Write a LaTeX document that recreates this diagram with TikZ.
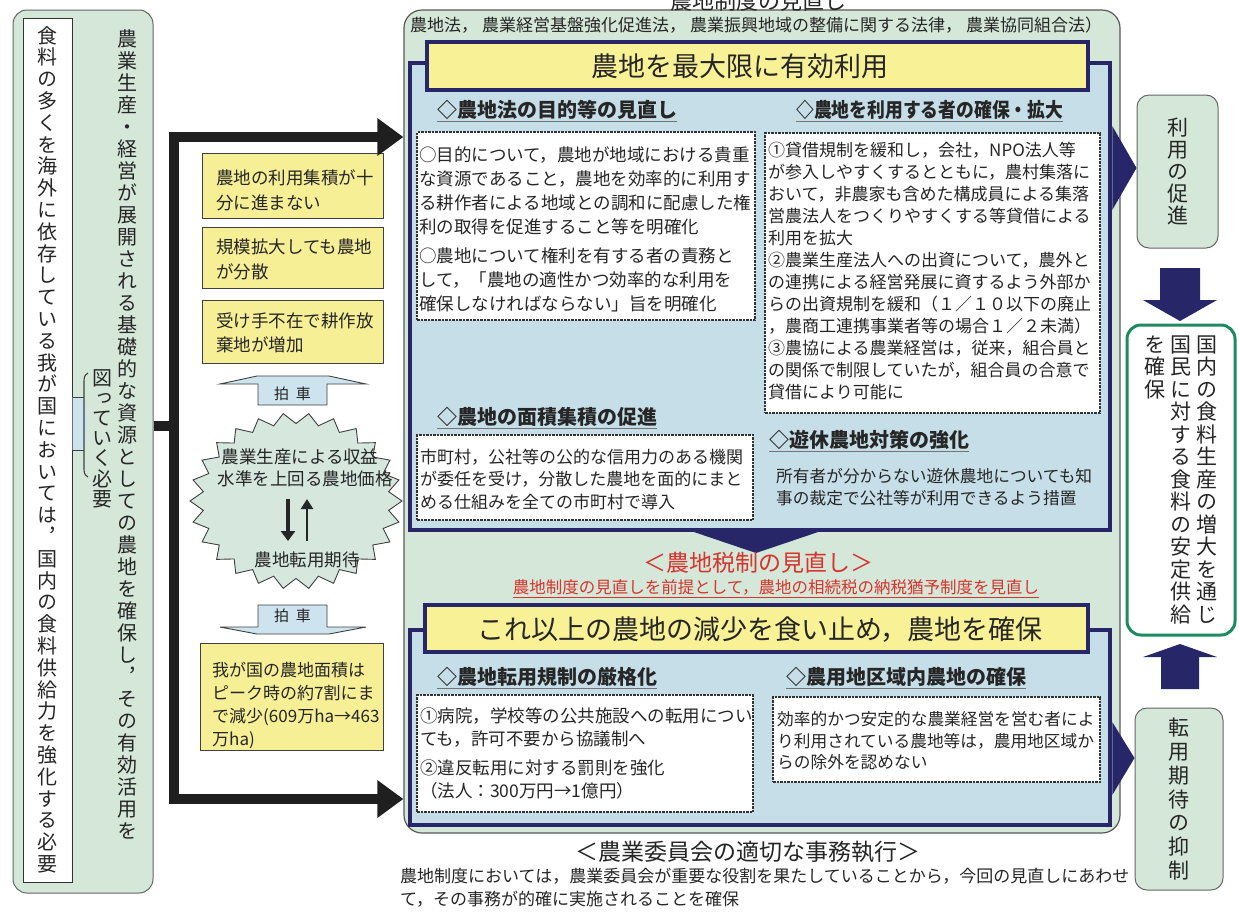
\documentclass[tikz,border=0pt]{standalone}
\usepackage{fontspec}
\usepackage{graphicx}
\setmainfont{Noto Sans CJK JP}
\newfontfamily\jpv[RawFeature=+vert]{Noto Sans CJK JP}
\usetikzlibrary{arrows.meta,calc,fit}
\definecolor{navy}{RGB}{38,38,105}
\definecolor{panelblue}{RGB}{198,222,232}
\definecolor{contgreen}{RGB}{212,231,217}
\definecolor{banneryellow}{RGB}{248,241,150}
\definecolor{yellowbox}{RGB}{247,239,150}
\definecolor{starfill}{RGB}{214,231,221}
\definecolor{hakfill}{RGB}{205,228,238}
\definecolor{redc}{RGB}{214,52,45}
\definecolor{ggreen}{RGB}{30,138,95}
\definecolor{txtc}{RGB}{38,38,38}
\makeatletter
\newcommand\vcol[2]{\vtop{\baselineskip=#1\lineskiplimit=-100pt\lineskip=0pt\@tfor\vch:=#2\do{\hbox to 1em{\hss\vch\hss}}}}
\makeatother
\newcommand\fs[2]{\fontsize{#1}{#2}\selectfont}
\begin{document}
\begin{tikzpicture}[x=1pt,y=-1pt,line join=miter,
 every node/.append style={text=txtc},
 txt/.style={inner sep=0pt, align=left, anchor=north west},
 ctxt/.style={inner sep=0pt, align=center},
 head/.style={inner sep=0pt, anchor=west, font=\bfseries\fs{20}{20}},
 wbox/.style={draw=black!80, fill=white, line width=1.3pt, dash pattern=on 2.5pt off 1pt, inner sep=0pt},
 ybox/.style={draw=black!75, fill=yellowbox, line width=1pt, inner sep=0pt},
 panel/.style={draw=navy, fill=panelblue, line width=4.5pt, inner sep=0pt},
 banner/.style={draw=navy, fill=banneryellow, line width=4pt, inner sep=0pt},
 gbox/.style={draw=black!60, fill=contgreen, rounded corners=12pt, line width=1pt, inner sep=0pt},
 bk/.style={line width=10pt, draw=black!88},
 ul/.style={draw=black!55, line width=1.2pt},
 hak/.style={draw=black!75, fill=hakfill, line width=0.9pt},
]
\useasboundingbox (0,0) rectangle (1239,914);
\fill[white] (0,0) rectangle (1239,914);

% ---------- left column ----------
\node[gbox, rounded corners=14pt, fit={(13,10) (153,893)}] (leftbox) {};
\node[draw=black!80, fill=white, line width=1pt, inner sep=0pt, fit={(23,18) (72,882)}] (inner) {};
\node[inner sep=0pt, anchor=north] (innert) at (47.5,26) {\jpv\fs{20}{20}\vcol{21.8pt}{食料の多くを海外に依存している我が国においては，国内の食料供給力を強化する必要}};
\node[inner sep=0pt, anchor=north] (maint) at (127,29) {\jpv\fs{20}{20}\vcol{22pt}{農業生産・経営が展開される基礎的な資源としての農地を確保し，その有効活用を}};
\node[inner sep=0pt, anchor=north] (maint2) at (102,369) {\jpv\fs{20}{20}\vcol{20.2pt}{図っていく必要}};
\fill[hakfill] (inner.east |- 0,397) -- (84,397) .. controls (88,410) and (88,437) .. (84,450) -- (inner.east |- 0,450) -- cycle;
\draw[black!75, line width=0.9pt] (inner.east |- 0,397) -- (84,397) (inner.east |- 0,450) -- (84,450);
\draw[black!75, line width=1.1pt] (88,373) .. controls (84,376) .. (84,385) -- (84,465) .. controls (84,474) .. (88,477);

% ---------- container ----------
\node[draw=black!65, fill=contgreen, rounded corners=18pt, line width=1.2pt, inner sep=0pt, fit={(404,10) (1120,833)}] (cont) {};
\node[inner sep=0pt, anchor=base, font=\fs{22}{22}] (toptitle) at (758,9) {農地制度の見直し};
\node[inner sep=0pt, anchor=west, font=\fs{17}{17}] (laws) at (410,25) {\hbox to 692pt{農地法，\hfil 農業経営基盤強化促進法，\hfil 農業振興地域の整備に関する法律，\hfil 農業協同組合法）}};

% ---------- panel 1 ----------
\node[panel, fit={(410,63) (1110,530)}] (p1) {};
\node[banner, fit={(427,42) (1088,90)}] (b1) {};
\node[ctxt, font=\fs{27}{27}] (b1t) at (740,66) {農地を最大限に有効利用};

\node[head] (h1) at (437,110) {◇農地法の目的等の見直し};
\draw[ul] ([yshift=-1.5pt]h1.south west) -- ([yshift=-1.5pt]h1.south east);
\node[head] (h2) at (796,110) {\scalebox{0.89}[1]{◇農地を利用する者の確保・拡大}};
\draw[ul] ([yshift=-1.5pt]h2.south west) -- ([yshift=-1.5pt]h2.south east);

\node[wbox, fit={(417,132) (755,320)}] (w1) {};
\node[txt, font=\fs{17.5}{24}] (w1a) at (419,146) {○目的について，農地が地域における貴重\\な資源であること，農地を効率的に利用す\\る耕作者による地域との調和に配慮した権\\利の取得を促進すること等を明確化};
\node[txt, font=\fs{17.5}{24}] (w1b) at (419,248) {○農地について権利を有する者の責務と\\して，「農地の適性かつ効率的な利用を\\確保しなければならない」旨を明確化};

\node[wbox, fit={(765,133) (1100,413)}] (w2) {};
\node[txt, font=\fs{17}{22}] (w2t) at (768,141.5) {①貸借規制を緩和し，会社，NPO法人等\\が参入しやすくするとともに，農村集落に\\おいて，非農家も含めた構成員による集落\\営農法人をつくりやすくする等貸借による\\利用を拡大\\②農業生産法人への出資について，農外と\\の連携による経営発展に資するよう外部か\\らの出資規制を緩和（１／１０以下の廃止\\，農商工連携事業者等の場合１／２未満）\\③農協による農業経営は，従来，組合員と\\の関係で制限していたが，組合員の合意で\\貸借により可能に};

\node[head] (h3) at (437,417) {◇農地の面積集積の促進};
\draw[ul] ([yshift=-1.5pt]h3.south west) -- ([yshift=-1.5pt]h3.south east);
\node[wbox, fit={(417,435) (753,520)}] (w3) {};
\node[txt, font=\fs{17}{22.5}] (w3t) at (420,448.5) {市町村，公社等の公的な信用力のある機関\\が委任を受け，分散した農地を面的にまと\\める仕組みを全ての市町村で導入};

\node[head] (h4) at (769,440) {◇遊休農地対策の強化};
\draw[ul] ([yshift=-1.5pt]h4.south west) -- ([yshift=-1.5pt]h4.south east);
\node[txt, font=\fs{16.7}{21.5}] (yt) at (776,468.6) {所有者が分からない遊休農地についても知\\事の裁定で公社等が利用できるよう措置};

\fill[navy] (688,530) -- (824,530) -- (756,553) -- cycle;

% ---------- tax ----------
\node[ctxt, text=redc, font=\fs{23}{23}] (tax) at (758,563) {＜農地税制の見直し＞};
\node[ctxt, text=redc, font=\fs{16.5}{16.5}] (taxsub) at (776,587) {農地制度の見直しを前提として，農地の相続税の納税猶予制度を見直し};
\draw[redc, line width=0.8pt] ([yshift=-2pt]taxsub.south west) -- ([yshift=-2pt]taxsub.south east);

% ---------- panel 2 ----------
\node[panel, fit={(410,630) (1110,825)}] (p2) {};
\node[banner, fit={(425,605) (1088,652)}] (b2) {};
\node[ctxt, font=\fs{27}{27}] (b2t) at (760,630) {これ以上の農地の減少を食い止め，農地を確保};

\node[head] (h5) at (437,677) {◇農地転用規制の厳格化};
\draw[ul] ([yshift=-1.5pt]h5.south west) -- ([yshift=-1.5pt]h5.south east);
\node[head] (h6) at (786,677) {◇農用地区域内農地の確保};
\draw[ul] ([yshift=-1.5pt]h6.south west) -- ([yshift=-1.5pt]h6.south east);

\node[wbox, fit={(417,695) (753,812)}] (w5) {};
\node[txt, font=\fs{17.5}{23}] (w5a) at (420,707.25) {①病院，学校等の公共施設への転用につい\\ても，許可不要から協議制へ};
\node[txt, font=\fs{17.5}{23}] (w5b) at (420,759.25) {②違反転用に対する罰則を強化\\（法人：300万円→1億円）};

\node[wbox, fit={(773,697) (1100,782)}] (w6) {};
\node[txt, font=\fs{16.7}{21.5}] (w6t) at (777,711.6) {効率的かつ安定的な農業経営を営む者によ\\り利用されている農地等は，農用地区域か\\らの除外を認めない};

% ---------- bottom text ----------
\node[ctxt, font=\fs{23}{23}] (iinkai) at (748,852) {＜農業委員会の適切な事務執行＞};
\node[inner sep=0pt, anchor=west, font=\fs{17}{17}] (bt1) at (400,876) {農地制度においては，農業委員会が重要な役割を果たしていることから，今回の見直しにあわせ};
\node[inner sep=0pt, anchor=west, font=\fs{17}{17}] (bt2) at (400,899) {て，その事務が的確に実施されることを確保};

% ---------- middle column ----------
\node[ybox, fit={(202,153) (383,218)}] (y1) {};
\node[txt, font=\fs{17.5}{25}] (y1t) at (216,169.25) {農地の利用集積が十\\分に進まない};
\node[ybox, fit={(202,227) (383,288)}] (y2) {};
\node[txt, font=\fs{17.5}{25}] (y2t) at (216,238.25) {規模拡大しても農地\\が分散};
\node[ybox, fit={(202,300) (383,363)}] (y3) {};
\node[txt, font=\fs{17.5}{24}] (y3t) at (216,312.25) {受け手不在で耕作放\\棄地が増加};

\draw[hak] (220,384) -- (257,376) -- (329,376) -- (366,384) -- (327,384) -- (327,405) -- (258,405) -- (258,384) -- cycle;
\node[ctxt, font=\fs{15}{15}] (hak1) at (292.5,394) {拍\ \ 車};

\coordinate (starc) at (296,501);
\draw[draw=black!75, fill=starfill, line width=0.9pt] (402,501)
  \foreach \i [evaluate=\i as \r using {1-0.12*mod(\i,2)}, evaluate=\i as \a using {\i*6.9230769}] in {1,...,51} { -- ({296+106*\r*cos(\a)},{501+88*\r*sin(\a)}) } -- cycle;
\node[ctxt, font=\fs{17.5}{17.5}] (s1) at (300,457) {農業生産による収益};
\node[ctxt, font=\fs{17.5}{17.5}] (s2) at (305,479) {水準を上回る農地価格};
\node[ctxt, font=\fs{17.5}{17.5}] (s3) at (307,560) {農地転用期待};
\coordinate (da1) at (288,499); \coordinate (da2) at (288,541);
\coordinate (ua1) at (307,541); \coordinate (ua2) at (307,499);
\draw[line width=4.5pt, draw=black!85, -{Triangle[length=10pt,width=14pt]}] (da1) -- (da2);
\draw[line width=2.8pt, draw=black!85, -{Triangle[length=10pt,width=12pt]}] (ua1) -- (ua2);

\draw[hak] (258,605) -- (327,605) -- (327,627) -- (366,627) -- (329,634) -- (257,634) -- (220,627) -- (258,627) -- cycle;
\node[ctxt, font=\fs{15}{15}] (hak2) at (292.5,616) {拍\ \ 車};

\node[ybox, fit={(200,643) (383,750)}] (y4) {};
\node[txt, font=\fs{17}{23}] (y4t) at (212,661.5) {我が国の農地面積は\\ピーク時の約7割にま\\で減少(609万ha→463\\万ha)};

% ---------- black bracket ----------
\coordinate (bkt) at (174,137);
\coordinate (bkb) at (174,799);
\coordinate (bks) at (174,426);
\draw[bk, line cap=rect, -{Triangle[length=26pt,width=36pt]}] (bkb) -- (bkt) -- (cont.west |- bkt);
\draw[bk, line cap=rect, -{Triangle[length=26pt,width=36pt]}] (bkb) -- (cont.west |- bkb);
\draw[bk] (leftbox.east |- bks) -- (bks);

% ---------- right column ----------
\node[gbox, minimum width=81, minimum height=153] (rb1) at (1177.5,171.5) {\jpv\fs{21}{21}\vcol{22pt}{利用の促進}};
\node[draw=ggreen, line width=3pt, fill=white, rounded corners=14pt, minimum width=108, minimum height=310, inner sep=0pt] (rb2) at (1181,480) {\jpv\fs{21}{21}\hbox{\vcol{22.5pt}{を確保}\hspace{5pt}\vcol{22.5pt}{国民に対する食料の安定供給}\hspace{5pt}\vcol{22.5pt}{国内の食料生産の増大を通じ}}};
\node[gbox, minimum width=88, minimum height=182] (rb3) at (1179,799) {\jpv\fs{21}{21}\vcol{23.8pt}{転用期待の抑制}};

\fill[navy] (p1.east |- 0,126) -- (rb1.west |- 0,168) -- (p1.east |- 0,210) -- cycle;
\fill[navy] (p2.east |- 0,722) -- (rb3.west |- 0,758) -- (p2.east |- 0,795) -- cycle;

\fill[navy] (1160,268) -- (1200,268) -- (1200,300) -- (1217,300) -- (1180,321) -- (1143,300) -- (1160,300) -- cycle;
\fill[navy] (1180,644) -- (1217,657) -- (1199,657) -- (1199,689) -- (1161,689) -- (1161,657) -- (1143,657) -- cycle;
\end{tikzpicture}
\end{document}
